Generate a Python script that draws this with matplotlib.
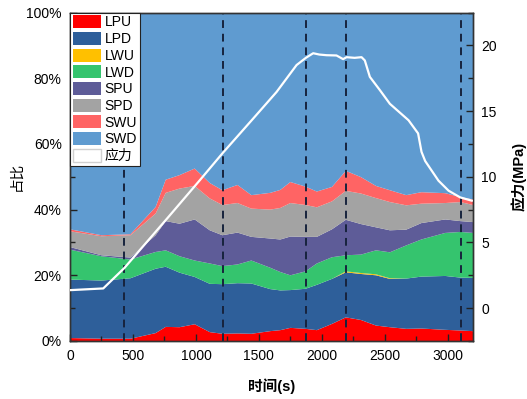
import matplotlib
matplotlib.use("Agg")
import matplotlib.pyplot as plt
from matplotlib.patches import Patch
from matplotlib.ticker import MultipleLocator, FixedLocator, FixedFormatter

plt.rcParams['font.family'] = ['Liberation Sans', 'Noto Sans CJK SC']

# ---- data ----
time_s = [0, 250, 480, 680, 760, 870, 990, 1110, 1210, 1330, 1440, 1590, 1670,
          1750, 1870, 1960, 2080, 2190, 2310, 2430, 2540, 2670, 2790, 2980, 3100, 3200]
LPU = [0.9, 0.7, 0.7, 2.4, 4.3, 4.2, 5.1, 2.7, 2.2, 2.3, 2.2, 3.0, 3.3,
       4.0, 3.7, 3.3, 5.2, 7.2, 6.4, 4.7, 4.2, 3.7, 3.8, 3.4, 3.2, 3.0]
LPD = [17.8, 17.7, 18.4, 19.6, 18.3, 16.6, 14.4, 14.7, 15.1, 15.3, 15.3, 12.8, 12.1,
       11.5, 12.2, 13.8, 13.7, 13.7, 14.0, 15.3, 14.7, 15.3, 15.8, 16.4, 16.1, 16.2]
LWU = [0, 0, 0, 0, 0, 0, 0, 0, 0, 0, 0, 0, 0,
       0, 0, 0, 0, 0.3, 0.3, 0.3, 0.2, 0, 0, 0, 0, 0]
LWD = [9.1, 7.4, 5.7, 5.1, 5.0, 5.0, 5.0, 6.2, 5.5, 5.7, 7.0, 6.5, 5.6,
       4.5, 5.3, 6.5, 6.6, 4.9, 5.6, 7.3, 7.9, 10.1, 11.3, 13.1, 13.9, 13.7]
SPU = [0.8, 0.3, 0.6, 5.1, 8.9, 9.9, 12.5, 10.1, 9.4, 9.7, 7.2, 8.9, 9.9,
       11.8, 10.5, 8.1, 8.5, 10.8, 9.3, 7.0, 6.7, 4.8, 5.0, 4.1, 3.3, 3.3]
SPD = [4.8, 5.8, 6.8, 6.6, 8.6, 10.7, 10.2, 9.7, 9.2, 9.0, 8.6, 8.8, 9.6,
       10.2, 9.7, 9.0, 8.5, 8.8, 9.3, 8.9, 8.6, 7.4, 5.9, 5.0, 5.8, 5.2]
SWU = [0.6, 0.3, 0.3, 2.0, 4.0, 4.1, 5.3, 4.7, 4.5, 5.5, 4.1, 5.1, 5.5,
       6.4, 5.6, 4.8, 4.4, 6.1, 5.0, 3.7, 3.6, 3.1, 3.5, 3.0, 1.5, 1.7]

stress_t = [0, 264, 431, 778, 1032, 1212, 1452, 1640, 1799, 1873, 1931, 1980, 2037,
            2116, 2169, 2196, 2260, 2315, 2341, 2381, 2460, 2540, 2688, 2764, 2791,
            2820, 2926, 3006, 3098, 3190]
stress_mpa = [1.37, 1.5, 3.05, 6.9, 9.75, 11.8, 14.4, 16.45, 18.5, 19.05, 19.4, 19.3, 19.25,
              19.23, 18.95, 19.1, 19.05, 19.1, 18.85, 17.6, 16.6, 15.55, 14.3, 13.3, 11.9,
              11.2, 9.7, 8.94, 8.43, 8.18]

stage_lines = [431, 1212, 1873, 2190, 3103]

names = ['LPU', 'LPD', 'LWU', 'LWD', 'SPU', 'SPD', 'SWU', 'SWD']
colors = ['#FF0000', '#2E5F9A', '#FFC000', '#35C46E', '#5E5C98', '#A3A3A3', '#FF6464', '#5F9BD0']
stress_label = '应力'

left_ticks = [0, 20, 40, 60, 80, 100]
left_ticklabels = ['0%', '20%', '40%', '60%', '80%', '100%']
right_ticks = [0, 5, 10, 15, 20]
x_ticks = [0, 500, 1000, 1500, 2000, 2500, 3000]

# ---- plot ----
SWD = [100 - sum(v) for v in zip(LPU, LPD, LWU, LWD, SPU, SPD, SWU)]
series = [LPU, LPD, LWU, LWD, SPU, SPD, SWU, SWD]

fig = plt.figure(figsize=(5.27, 3.99), dpi=100)
ax = fig.add_axes([70/527, 1-341/399, 403/527, 328.5/399])
polys = ax.stackplot(time_s, *series, colors=colors, linewidth=0)
ax.set_xlim(0, 3200)
ax.set_ylim(0, 100)
ax.yaxis.set_major_locator(FixedLocator(left_ticks))
ax.yaxis.set_major_formatter(FixedFormatter(left_ticklabels))
ax.yaxis.set_minor_locator(MultipleLocator(10))
ax.xaxis.set_major_locator(FixedLocator(x_ticks))
ax.xaxis.set_minor_locator(MultipleLocator(250))
ax.tick_params(which='both', direction='in', labelsize=10, color='#222222')
ax.tick_params(which='major', length=5, width=1)
ax.tick_params(which='minor', length=3.5, width=1)
ax.tick_params(axis='x', pad=6)
ax.tick_params(axis='y', pad=6)
for x in stage_lines:
    ax.axvline(x, color='#17233d', linestyle=(0, (4, 3)), linewidth=1.4, zorder=3)
ax.set_xlabel('时间(s)', fontsize=10.5, fontweight='bold', labelpad=11)
ax.set_ylabel('占比', fontsize=10.5, labelpad=2)

ax2 = ax.twinx()
ax2.plot(stress_t, stress_mpa, color='white', linewidth=1.6, zorder=4)
ax2.set_ylim(-2.5, 22.5)
ax2.yaxis.set_major_locator(FixedLocator(right_ticks))
ax2.yaxis.set_minor_locator(MultipleLocator(2.5))
ax2.tick_params(which='both', direction='in', labelsize=10, color='#222222', pad=6)
ax2.tick_params(which='major', length=5, width=1)
ax2.tick_params(which='minor', length=3.5, width=1)
ax2.set_ylabel('应力(MPa)', fontsize=10.5, fontweight='bold', labelpad=10)

for a in (ax, ax2):
    for s in a.spines.values():
        s.set_color('#333333')
        s.set_linewidth(1.0)

handles = [Patch(facecolor=c, edgecolor='none') for c in colors]
handles.append(Patch(facecolor='white', edgecolor='#d0d0d0'))
leg = ax2.legend(handles, names + [stress_label], loc='upper left', fontsize=10,
                 frameon=True, fancybox=False, edgecolor='#222222', framealpha=1,
                 borderaxespad=0, borderpad=0.2, labelspacing=0.18,
                 handlelength=2.0, handleheight=1.05, handletextpad=0.3)
leg.get_frame().set_linewidth(0.8)
leg.set_zorder(10)

fig.savefig('out.png', dpi=100)
